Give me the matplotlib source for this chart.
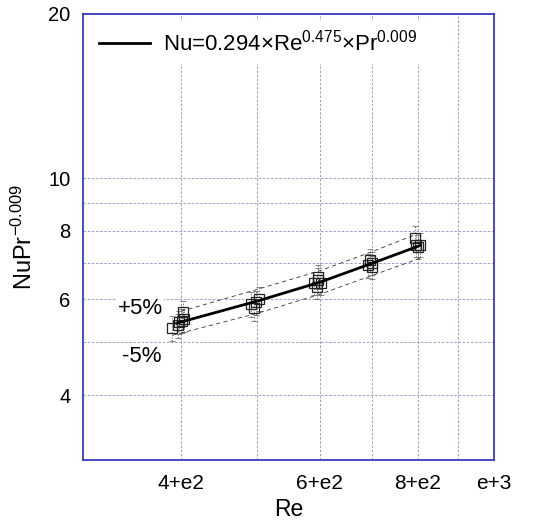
import matplotlib
matplotlib.use("Agg")
import matplotlib.pyplot as plt
from matplotlib.ticker import FixedLocator, FixedFormatter, NullFormatter

plt.rcParams['font.family'] = ['Liberation Sans', 'DejaVu Sans']
plt.rcParams['mathtext.default'] = 'regular'

# measured points (Re, NuPr^-0.009)
re_pts = [389.6, 396.5, 401.2, 402.4, 397.6, 403.5,
          491, 498.5, 503, 495,
          591, 598, 603, 595, 596.5,
          690.6, 698.7, 700.4, 695,
          795, 800.5, 806, 793]
nu_pts = [5.31, 5.37, 5.47, 5.68, 5.44, 5.51,
          5.87, 5.92, 6.00, 5.77,
          6.42, 6.50, 6.42, 6.31, 6.59,
          6.92, 6.98, 6.86, 7.07,
          7.54, 7.48, 7.54, 7.77]
nu_err = [0.28, 0.27, 0.28, 0.28, 0.27, 0.28,
          0.30, 0.30, 0.30, 0.29,
          0.32, 0.33, 0.32, 0.32, 0.33,
          0.35, 0.35, 0.34, 0.35,
          0.38, 0.37, 0.38, 0.39]

# correlation line and +/-5% bands
fit_re = [395, 500, 600, 700, 805]
fit_nu = [5.42, 5.95, 6.44, 6.98, 7.52]
up_re = [400, 500, 600, 700, 795]
up_nu = [5.70, 6.25, 6.76, 7.33, 7.88]
lo_re = [390, 500, 600, 700, 810]
lo_nu = [5.15, 5.65, 6.12, 6.63, 7.15]

x_ticks = [400, 600, 800, 1000]
x_labels = ['4+e2', '6+e2', '8+e2', 'e+3']
x_minor = [500, 700, 900]
y_ticks = [4, 6, 8, 10, 20]
y_labels = ['4', '6', '8', '10', '20']
y_minor = [5, 7, 9]

fig = plt.figure(figsize=(5.45, 5.32), dpi=100)
ax = fig.add_axes([0.1523, 0.1353, 0.7541, 0.8384])
ax.set_xscale('log')
ax.set_yscale('log')
ax.set_xlim(300, 1000)
ax.set_ylim(3.04, 20)

ax.xaxis.set_major_locator(FixedLocator(x_ticks))
ax.xaxis.set_major_formatter(FixedFormatter(x_labels))
ax.xaxis.set_minor_locator(FixedLocator(x_minor))
ax.xaxis.set_minor_formatter(NullFormatter())
ax.yaxis.set_major_locator(FixedLocator(y_ticks))
ax.yaxis.set_major_formatter(FixedFormatter(y_labels))
ax.yaxis.set_minor_locator(FixedLocator(y_minor))
ax.yaxis.set_minor_formatter(NullFormatter())
ax.tick_params(which='both', length=0)
ax.tick_params(axis='x', pad=10, labelsize=15)
ax.tick_params(axis='y', pad=9, labelsize=14.5)

ax.grid(True, which='both', color='#8e8ec4', linestyle=(0, (3, 2)), linewidth=0.6)
ax.set_axisbelow(True)
for s in ax.spines.values():
    s.set_color('#3a3ac4')
    s.set_linewidth(1.3)

eb = ax.errorbar(re_pts, nu_pts, yerr=nu_err, fmt='none', ecolor='#555555',
                 elinewidth=0.5, capsize=2, capthick=0.5, zorder=3)
for lc in eb[2]:
    lc.set_linestyle((0, (2, 2)))
ax.plot(re_pts, nu_pts, linestyle='none', marker='s', markersize=6.5,
        markerfacecolor='none', markeredgecolor='#222222', markeredgewidth=0.9, zorder=4)

ax.plot(up_re, up_nu, color='#333333', linestyle=(0, (5, 4)), linewidth=0.6, zorder=3)
ax.plot(lo_re, lo_nu, color='#333333', linestyle=(0, (5, 4)), linewidth=0.6, zorder=3)
ax.plot(fit_re, fit_nu, color='black', linewidth=2.0, zorder=5,
        label='Nu=0.294×Re$^{0.475}$×Pr$^{0.009}$')

leg = ax.legend(loc='upper left', fontsize=16, frameon=True, handlelength=2.3,
                borderaxespad=0.3, handletextpad=0.6)
leg.get_frame().set_edgecolor('none')
leg.get_frame().set_facecolor('white')
leg.get_frame().set_alpha(1)

ax.text(0.139, 0.339, '+5%', transform=ax.transAxes, fontsize=16, ha='center', va='center',
        bbox=dict(facecolor='white', edgecolor='none', pad=1), zorder=6)
ax.text(0.143, 0.233, '-5%', transform=ax.transAxes, fontsize=16, ha='center', va='center',
        bbox=dict(facecolor='white', edgecolor='none', pad=1), zorder=6)

ax.set_xlabel('Re', fontsize=16.5, labelpad=4)
ax.set_ylabel('NuPr$^{-0.009}$', fontsize=17, labelpad=8)

fig.savefig('out.png', dpi=100)
